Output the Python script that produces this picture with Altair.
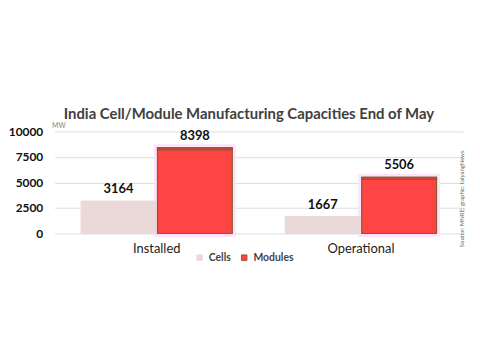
import altair as alt
import pandas as pd

categories = ["Installed", "Installed", "Operational", "Operational"]
series = ["Cells", "Modules", "Cells", "Modules"]
values = [3164, 8398, 1667, 5506]
y_ticks = [0, 2500, 5000, 7500, 10000]

df = pd.DataFrame({"cat": categories, "series": series, "value": values})

FONT = "Lato"
color_scale = alt.Scale(domain=["Cells", "Modules"], range=["#EBD9D9", "#FF4444"])
stroke_scale = alt.Scale(domain=["Cells", "Modules"], range=["#EBD9D9", "#8B5A2B"])

x = alt.X("cat:N", title=None, sort=["Installed", "Operational"],
          scale=alt.Scale(paddingInner=0.26, paddingOuter=0.13),
          axis=alt.Axis(labelAngle=0, domain=False, ticks=False, labelFontSize=13,
                        labelColor="#222222", labelPadding=9, labelFont=FONT))
xo = alt.XOffset("series:N", scale=alt.Scale(domain=["Cells", "Modules"], paddingInner=0.02))
y = alt.Y("value:Q", title="MW", scale=alt.Scale(domain=[0, 10000], nice=False),
          axis=alt.Axis(values=y_ticks, format="d", domain=False, ticks=False, labelFontSize=12,
                        labelFontWeight="bold", labelColor="#111111", labelPadding=12,
                        gridColor="#DDDDDD", gridWidth=1, labelFont=FONT,
                        titleAngle=0, titleX=-3, titleY=-3, titleFontSize=7,
                        titleFontWeight="normal", titleColor="#888888", titleFont=FONT,
                        titleAlign="left"))

base = alt.Chart(df)

glow = base.transform_filter(alt.datum.series == "Modules").mark_bar(
    stroke="#FCE4FC", strokeWidth=7, fill="#FCE4FC"
).encode(x=x, xOffset=xo, y=y)

bars = base.mark_bar(strokeWidth=1.2).encode(
    x=x, xOffset=xo, y=y,
    color=alt.Color("series:N", scale=color_scale, title=None,
                    legend=alt.Legend(orient="none", legendX=141, legendY=122,
                                      direction="horizontal", symbolType="square",
                                      symbolSize=30, labelFontSize=10.5, labelFont=FONT,
                                      labelFontWeight="bold", labelColor="#444444",
                                      columnPadding=8, symbolStrokeWidth=1)),
    stroke=alt.Stroke("series:N", scale=stroke_scale, legend=None),
)

top_band = base.transform_filter(alt.datum.series == "Modules").transform_calculate(
    v2="datum.value - 220"
).mark_bar(fill="#C9463A", stroke="#8B5A2B", strokeWidth=1.2).encode(
    x=x, xOffset=xo, y=y, y2="v2:Q"
)

labels = base.mark_text(dy=-5, fontSize=13, fontWeight="bold", font=FONT,
                        color="#111111", baseline="bottom").encode(
    x=x, xOffset=xo, y=y, text=alt.Text("value:Q", format="d")
)

source = alt.Chart(pd.DataFrame({"t": ["Source: MNRE; graphic: taiyangNews"]})).mark_text(
    angle=270, fontSize=6, color="#666666", font=FONT, align="center", baseline="middle"
).encode(x=alt.value(411), y=alt.value(68), text="t:N")

chart = alt.layer(glow, bars, top_band, labels, source).properties(
    width=412, height=103,
    padding={"left": 47, "top": 123, "right": 9, "bottom": 110},
    autosize=alt.AutoSizeParams(type="none"),
    title=alt.TitleParams("India Cell/Module Manufacturing Capacities End of May",
                          fontSize=15, fontWeight="bold", font=FONT, color="#404040",
                          anchor="middle", dx=-10, offset=-1),
).configure_view(stroke=None)

chart.save("out.html", embed_options={"renderer": "svg", "actions": False})
